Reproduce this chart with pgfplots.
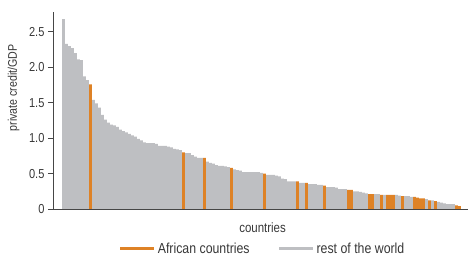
\documentclass[border=0pt]{standalone}
\usepackage{pgfplots}
\pgfplotsset{compat=1.18}
\usepackage{pgfplotstable}
\usepackage{fontspec}
\setmainfont{Liberation Sans}[FakeStretch=0.85]
\definecolor{bargray}{RGB}{190,191,194}
\definecolor{barorange}{RGB}{222,130,38}
\definecolor{axisgray}{RGB}{70,70,70}
\definecolor{txt}{RGB}{55,55,55}

\pgfplotstableread{
x y
0 2.68
1 2.33
2 2.30
3 2.27
4 2.20
5 2.11
6 2.10
7 1.87
8 1.82
10 1.54
11 1.49
12 1.43
13 1.33
14 1.26
15 1.22
16 1.19
17 1.18
18 1.16
19 1.12
20 1.10
21 1.08
22 1.06
23 1.04
24 1.02
25 0.99
26 0.97
27 0.94
28 0.93
29 0.93
30 0.93
31 0.92
32 0.89
33 0.89
34 0.89
35 0.88
36 0.87
37 0.85
38 0.84
39 0.83
41 0.79
42 0.79
43 0.76
44 0.74
45 0.72
46 0.72
48 0.67
49 0.65
50 0.64
51 0.62
52 0.61
53 0.61
54 0.60
55 0.59
57 0.56
58 0.55
59 0.54
60 0.52
61 0.52
62 0.52
63 0.52
64 0.52
65 0.52
66 0.51
68 0.48
69 0.48
70 0.48
71 0.47
72 0.46
73 0.43
74 0.42
75 0.39
76 0.39
77 0.39
79 0.37
80 0.37
82 0.35
83 0.35
84 0.35
85 0.34
86 0.34
88 0.31
89 0.31
90 0.31
91 0.30
92 0.28
93 0.28
94 0.28
97 0.25
98 0.25
99 0.24
100 0.23
101 0.22
104 0.21
105 0.21
107 0.20
111 0.20
112 0.19
114 0.18
115 0.18
116 0.17
121 0.14
123 0.12
125 0.10
126 0.09
127 0.08
128 0.07
129 0.07
130 0.07
}\restworld

\pgfplotstableread{
x y
9 1.76
40 0.80
47 0.72
56 0.58
67 0.50
78 0.39
81 0.37
87 0.33
95 0.27
96 0.27
102 0.21
103 0.21
106 0.20
108 0.20
109 0.20
110 0.20
113 0.18
117 0.17
118 0.16
119 0.15
120 0.15
122 0.12
124 0.11
131 0.05
132 0.04
}\africa

\begin{document}
\begin{tikzpicture}
\path[use as bounding box] (0pt,0pt) rectangle (475pt,268pt);
\begin{axis}[
  at={(53pt,59pt)}, anchor=south west,
  scale only axis,
  width=415pt, height=197pt,
  xmin=-3.5, xmax=134.83,
  ymin=0, ymax=2.78,
  axis x line*=bottom,
  axis y line*=left,
  axis line style={axisgray, line width=0.9pt},
  xtick=\empty,
  ytick={0,0.5,1,1.5,2,2.5},
  yticklabels={0,0.5,1.0,1.5,2.0,2.5},
  tick align=outside,
  major tick length=5pt,
  tick style={axisgray, line width=0.8pt},
  yticklabel style={font=\fontsize{13}{14}\selectfont, text=txt},
  xlabel={countries},
  xlabel style={at={(axis description cs:0.505,-0.095)}, anchor=center, font=\fontsize{13.5}{15}\selectfont, text=txt},
  legend style={at={(axis description cs:0.505,-0.203)}, anchor=center, draw=none, fill=none,
    font=\fontsize{14.5}{16}\selectfont, text=txt, legend columns=2,
    /tikz/every even column/.append style={column sep=26pt}},
  legend image code/.code={\draw[#1, line width=3pt] (0pt,0pt) -- (34pt,0pt);},
  clip=false,
]
\addplot[ybar, bar width=0.85, bar shift=0pt, fill=bargray, draw=none, forget plot] table[x=x,y=y] {\restworld};
\addplot[ybar, bar width=0.85, bar shift=0pt, fill=barorange, draw=none, forget plot] table[x=x,y=y] {\africa};
\addlegendimage{barorange}
\addlegendentry{African countries}
\addlegendimage{bargray}
\addlegendentry{rest of the world}
\node[rotate=90, anchor=center, font=\fontsize{12.5}{14}\selectfont, text=txt] at (axis description cs:-0.095,0.614) {private credit/GDP};
\end{axis}
\end{tikzpicture}
\end{document}
